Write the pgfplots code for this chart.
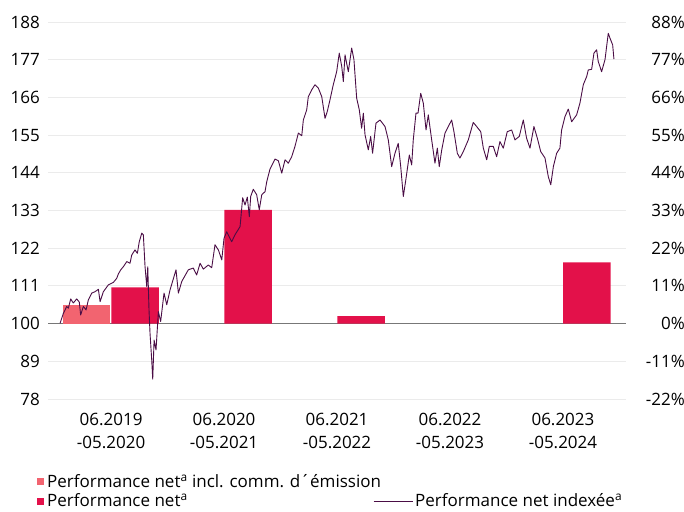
\documentclass[border=0pt]{standalone}
\usepackage{fontspec}
\setmainfont{Open Sans}
\usepackage{pgfplots}
\pgfplotsset{compat=1.18}
\usepackage{pgfplotstable}
\definecolor{barred}{HTML}{E3114A}
\definecolor{barpink}{HTML}{F26470}
\definecolor{linepurple}{HTML}{4A0D45}
\definecolor{gridgray}{HTML}{EBEBEB}
\definecolor{zerogray}{HTML}{777777}

\pgfplotstableread{
x v
-0.451 100.1
-0.422 103.0
-0.392 105.0
-0.378 104.5
-0.357 107.2
-0.334 106.0
-0.304 107.2
-0.281 106.3
-0.269 102.5
-0.245 105.0
-0.221 104.0
-0.201 106.9
-0.171 108.9
-0.142 109.3
-0.112 110.0
-0.097 106.4
-0.068 109.3
-0.024 111.3
0.020 112.0
0.050 113.2
0.065 114.5
0.086 115.7
0.109 116.6
0.139 118.1
0.168 117.6
0.183 120.0
0.212 121.5
0.233 120.5
0.250 123.9
0.272 126.4
0.286 125.9
0.301 116.6
0.316 110.8
0.325 116.6
0.336 104.0
0.345 97.2
0.360 89.4
0.369 83.8
0.381 95.2
0.398 92.3
0.419 103.5
0.439 100.6
0.469 108.9
0.493 105.5
0.522 109.8
0.575 115.7
0.596 108.9
0.626 112.3
0.684 115.7
0.728 116.2
0.758 114.2
0.788 117.6
0.817 115.9
0.861 117.1
0.891 116.3
0.920 123.0
0.950 121.5
0.980 118.6
1.000 124.9
1.024 126.8
1.068 123.9
1.097 125.9
1.142 128.3
1.165 136.7
1.186 134.6
1.206 136.9
1.224 131.2
1.236 137.1
1.259 139.2
1.289 137.6
1.312 133.2
1.334 137.6
1.363 138.5
1.378 141.4
1.407 145.1
1.451 148.0
1.481 147.5
1.511 143.9
1.540 147.8
1.569 146.8
1.599 148.7
1.628 151.7
1.658 155.6
1.688 154.8
1.702 159.4
1.732 162.4
1.746 166.2
1.776 168.2
1.805 169.7
1.835 168.7
1.865 166.2
1.894 159.9
1.914 161.9
1.938 165.3
1.967 169.7
1.997 173.5
2.020 178.9
2.042 175.0
2.056 170.6
2.071 178.4
2.100 173.5
2.130 180.4
2.150 177.0
2.174 165.8
2.197 162.4
2.218 157.0
2.233 161.4
2.248 155.1
2.277 150.7
2.298 154.6
2.315 149.7
2.345 158.5
2.381 159.4
2.425 157.5
2.454 153.6
2.484 145.8
2.513 149.7
2.542 152.6
2.564 145.8
2.587 137.1
2.611 142.4
2.640 149.2
2.661 146.3
2.675 153.6
2.699 161.4
2.717 161.4
2.741 167.2
2.764 164.3
2.788 156.5
2.808 160.9
2.838 153.6
2.867 146.8
2.888 151.2
2.905 145.8
2.927 150.7
2.956 155.6
2.985 157.5
3.015 159.4
3.035 156.0
3.065 149.7
3.088 148.3
3.118 150.2
3.162 153.6
3.206 158.7
3.236 157.5
3.272 156.0
3.295 151.2
3.325 147.8
3.348 151.7
3.383 151.7
3.413 148.7
3.442 153.1
3.472 151.2
3.507 156.0
3.546 156.5
3.575 153.6
3.613 154.6
3.649 159.4
3.678 154.1
3.708 151.2
3.743 157.5
3.773 154.1
3.803 150.2
3.841 148.3
3.870 142.9
3.892 140.5
3.915 145.8
3.944 149.7
3.973 151.2
3.988 156.5
4.018 160.4
4.047 162.6
4.077 158.9
4.121 160.9
4.150 164.3
4.180 169.7
4.210 172.1
4.224 174.0
4.254 174.2
4.274 178.9
4.298 179.9
4.312 176.5
4.342 173.5
4.372 177.0
4.401 184.7
4.416 183.3
4.440 181.3
4.451 177.2
}\indexdata

\begin{document}
\begin{tikzpicture}
\path[use as bounding box] (0,0) rectangle (684pt,511pt);
\pgfplotsset{common/.style={
  scale only axis, width=578pt, height=377pt,
  at={(48pt,112pt)}, anchor=south west,
  xmin=-0.558, xmax=4.558,
  axis line style={draw=none}, major tick length=0pt,
  tick style={draw=none},
  font=\fontsize{17}{23}\selectfont,
  /pgf/number format/assume math mode=true,
}}
\begin{axis}[common,
  ymin=-22, ymax=88,
  ytick={-22,-11,...,88},
  yticklabels={-22\%,-11\%,0\%,11\%,22\%,33\%,44\%,55\%,66\%,77\%,88\%},
  yticklabel pos=right,
  yticklabel style={anchor=east, inner sep=0pt, xshift=59pt},
  ymajorgrids, grid style={gridgray, line width=0.8pt},
  extra y ticks={0}, extra y tick labels={},
  extra y tick style={grid style={zerogray, line width=1.5pt}},
  xtick={0,1,2,3,4},
  xticklabels={{06.2019\\-05.2020},{06.2020\\-05.2021},{06.2021\\-05.2022},{06.2022\\-05.2023},{06.2023\\-05.2024}},
  xticklabel style={align=center, yshift=-11pt},
  legend style={at={(axis description cs:-0.019,-0.19)}, anchor=north west,
    draw=none, fill=none, inner sep=0pt, row sep=-2pt,
    /tikz/every even column/.append style={column sep=0pt},
    nodes={inner sep=3.5pt},
    font=\fontsize{17}{20}\selectfont},
  legend cell align=left,
]
\addlegendimage{legend image code/.code={\fill[barpink] (0pt,-3pt) rectangle (6pt,3pt);}}
\addlegendentry{Performance net\textsuperscript{a} incl. comm. d´émission}
\addlegendimage{legend image code/.code={\fill[barred] (0pt,-3pt) rectangle (6pt,3pt);}}
\addlegendentry{Performance net\textsuperscript{a}}
\addplot[ybar, bar width=47.5pt, bar shift=-24.5pt, fill=barpink, draw=none, forget plot]
  coordinates {(0,5.5)};
\addplot[ybar, bar width=47.5pt, bar shift=24pt, fill=barred, draw=none, forget plot]
  coordinates {(0,10.6) (1,33.2) (2,2.2) (4,17.9)};
\addplot[linepurple, line width=0.9pt, line join=round, forget plot]
  table[x=x, y expr=\thisrow{v}-100] {\indexdata};
\end{axis}
\begin{axis}[common,
  ymin=78, ymax=188,
  ytick={78,89,...,188},
  yticklabel style={inner sep=0pt, xshift=-8pt},
  xtick=\empty,
  legend style={at={(axis description cs:0.5623,-0.2706)}, anchor=west,
    draw=none, fill=none, inner sep=0pt,
    font=\fontsize{17}{20}\selectfont},
]
\addplot[draw=none, forget plot] coordinates {(0,100)};
\addlegendimage{legend image code/.code={\draw[linepurple, line width=1pt] (0pt,0pt) -- (39pt,0pt);}}
\addlegendentry{Performance net indexée\textsuperscript{a}}
\end{axis}
\end{tikzpicture}
\end{document}
